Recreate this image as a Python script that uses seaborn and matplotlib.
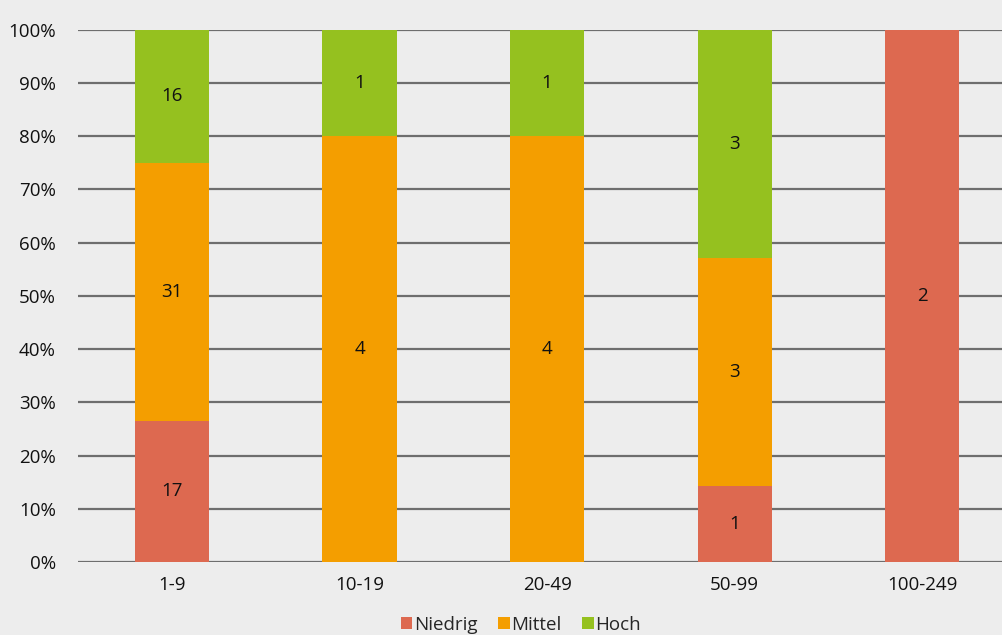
import matplotlib
matplotlib.use("Agg")
import matplotlib.pyplot as plt
import seaborn as sns
import numpy as np
import pandas as pd
from matplotlib.patches import Patch

# counts per size class
groups = ["1-9", "10-19", "20-49", "50-99", "100-249"]
niedrig = [17, 0, 0, 1, 2]
mittel = [31, 4, 4, 3, 0]
hoch = [16, 1, 1, 3, 0]

levels = ["Niedrig", "Mittel", "Hoch"]
colors = ["#DD6950", "#F49E00", "#95C11F"]
bg = "#EDEDED"

counts = np.array([niedrig, mittel, hoch], dtype=float)
totals = counts.sum(axis=0)
shares = counts / totals * 100
cum = np.cumsum(shares, axis=0)

sns.set_style("white")
plt.rcParams["font.family"] = ["Open Sans", "DejaVu Sans"]

fig = plt.figure(figsize=(10.02, 6.35), dpi=100, facecolor=bg)
# axes runs a little past the right edge, like the original
ax = fig.add_axes([0.078, 0.115, 0.936, 0.838])
ax.set_facecolor(bg)

# draw cumulative heights from top layer down so they overlap into stacks
for i in range(len(levels) - 1, -1, -1):
    df = pd.DataFrame({"group": groups, "value": cum[i]})
    sns.barplot(data=df, x="group", y="value", color=colors[i], width=0.395,
                saturation=1, ax=ax, zorder=3, linewidth=0)

# count labels centred in each segment
for i in range(len(levels)):
    for j, g in enumerate(groups):
        if counts[i, j] > 0:
            mid = cum[i, j] - shares[i, j] / 2
            ax.text(j, mid, f"{int(counts[i, j])}", ha="center", va="center",
                    fontsize=13.5, color="#111111", zorder=4)

ax.set_ylim(0, 100)
ax.set_xlim(-0.5, len(groups) - 0.5)
ax.set_yticks(np.arange(0, 101, 10))
ax.set_yticklabels([f"{v}%" for v in range(0, 101, 10)])
ax.yaxis.grid(True, color="#6E6E6E", linewidth=1.6, zorder=0)
ax.set_axisbelow(True)
ax.tick_params(axis="both", length=0, labelsize=13.5, colors="#111111")
ax.tick_params(axis="y", pad=16)
ax.tick_params(axis="x", pad=10)
ax.set_xlabel("")
ax.set_ylabel("")
for s in ax.spines.values():
    s.set_visible(False)

handles = [Patch(facecolor=c, edgecolor="none", label=l) for c, l in zip(colors, levels)]
fig.legend(handles=handles, loc="lower center", ncol=3, frameon=False,
           fontsize=13.5, bbox_to_anchor=(0.52, -0.025), handlelength=0.6,
           handleheight=0.6, handletextpad=0.1, columnspacing=1.1)

fig.savefig("out.png", dpi=100, facecolor=bg)
